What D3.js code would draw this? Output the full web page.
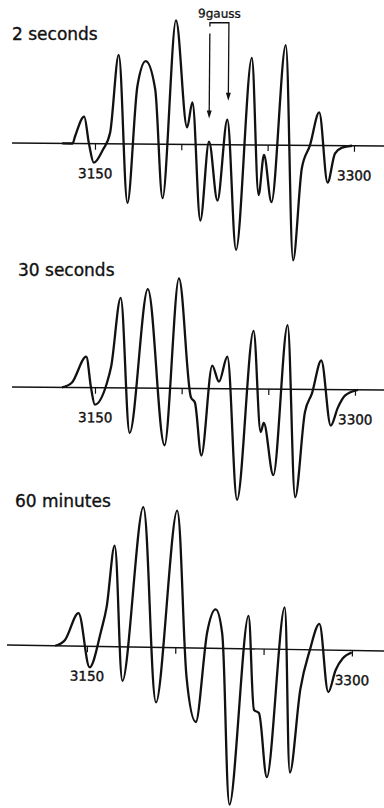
<!DOCTYPE html>
<html>
<head>
<meta charset="utf-8">
<script src="https://cdn.jsdelivr.net/npm/d3@7"></script>
<style>
  html, body { margin: 0; padding: 0; background: #fff; }
  svg { display: block; }
</style>
</head>
<body>
<div id="chart"></div>
<script>
// field axis (gauss)
const fieldTicks = [3150, 3200, 3250, 3300];
const labelledTicks = [3150, 3300];
const panelTitles = ['2 seconds', '30 seconds', '60 minutes'];

// 2 seconds spectrum: field (G) and derivative signal (arb. units)
const field2s = [3131, 3137, 3138.4, 3143.6, 3146.5, 3149.4, 3154.6, 3158.7, 3163.3, 3169.1,
  3174.3, 3179.0, 3184.6, 3189.4, 3196.3, 3203.3, 3206.2, 3211.4, 3216.0, 3221.2,
  3226.5, 3232.2, 3240.4, 3245.0, 3247.9, 3252.5, 3260.0, 3265.3, 3269.9, 3274.5,
  3279.7, 3284.9, 3289.0, 3293.1, 3298.9];
const signal2s = [0, 0, 7, 27, 0, -19, -6, 11, 89, -59,
  58, 83, 55, -54, 124, 17, 42, -76, 3, -56,
  25, -105, 87, -50, -10, -57, 100, -115, -23, 0,
  33, -37, -8, -2, 0];

// 30 seconds spectrum
const field30s = [3131, 3136.7, 3144.8, 3147.7, 3150, 3156.9, 3159.2, 3164.4, 3170.2, 3180.0,
  3190.4, 3197.9, 3205.4, 3207.7, 3211.7, 3217.5, 3221.5, 3226.2, 3232.5, 3241.2,
  3245.8, 3247.5, 3253.3, 3260.8, 3266.0, 3271.2, 3275.2, 3280.4, 3286.2, 3290.2,
  3294.2, 3301.7];
const signal30s = [0, 5, 31, 0, -17, 5, 21, 90, -45, 99,
  -57, 110, -9, -14, -67, 23, 7, 32, -111, 58,
  -43, -34, -86, 64, -108, -23, -4, 29, -36, -18,
  -6, 0];

// 60 minutes spectrum
const field60m = [3132, 3137.5, 3144.9, 3151.7, 3157.9, 3160.8, 3164.7, 3170.4, 3180.6, 3189.6,
  3199.8, 3206.6, 3212.3, 3217.9, 3222.5, 3226.4, 3232.1, 3241.1, 3245.1, 3247.9,
  3253.0, 3261.5, 3266.0, 3271.1, 3276.2, 3281.3, 3287.0, 3290.9, 3294.9, 3299.9];
const signal60m = [0, 6, 33, -21, 16, 40, 101, -34, 140, -55,
  137, -29, -74, 16, 39, 15, -156, 33, -61, -64,
  -128, 42, -123, -40, 0, 26, -42, -20, -8, -2];

// 9 gauss marker on the first spectrum
const markerField = [3216, 3227];
const markerTip = [26, 44];
const markerTop = 122;

const W = 384, H = 808;
const ink = '#111';
const font = '"DejaVu Sans", sans-serif';

const panels = [
  { title: panelTitles[0], field: field2s, signal: signal2s, base: 143, x0: 12, tilt: 0.46, r: [95, 354], tx: 12, ty: 40 },
  { title: panelTitles[1], field: field30s, signal: signal30s, base: 387, x0: 12, tilt: 0.46, r: [95, 355], tx: 18, ty: 276 },
  { title: panelTitles[2], field: field60m, signal: signal60m, base: 645, x0: 7, tilt: 0.91, r: [87, 352], tx: 15, ty: 507 }
];

const svg = d3.select('#chart').append('svg')
  .attr('width', W)
  .attr('height', H);

const y = d3.scaleLinear().domain([0, 100]).range([0, -100]);

panels.forEach((p, i) => {
  const x = d3.scaleLinear().domain([3150, 3300]).range(p.r);

  svg.append('text')
    .attr('x', p.tx)
    .attr('y', p.ty)
    .attr('font-family', font)
    .attr('font-size', 17)
    .attr('fill', ink)
    .attr('stroke', ink)
    .attr('stroke-width', 0.35)
    .text(p.title);

  const g = svg.append('g')
    .attr('transform', 'translate(0,' + p.base + ') rotate(' + p.tilt + ',' + p.x0 + ',0)');

  // baseline
  g.append('line')
    .attr('x1', p.x0).attr('x2', W + 10)
    .attr('y1', 0).attr('y2', 0)
    .attr('stroke', ink)
    .attr('stroke-width', 1.4);

  const axis = g.append('g')
    .call(d3.axisBottom(x)
      .tickValues(fieldTicks)
      .tickSize(6)
      .tickPadding(19)
      .tickFormat(d => labelledTicks.includes(d) ? d : ''));
  axis.select('.domain').remove();
  axis.attr('font-family', font).attr('font-size', 13.5);
  axis.selectAll('line').attr('stroke', ink).attr('stroke-width', 1.2);
  axis.selectAll('text').attr('fill', ink).attr('stroke', ink).attr('stroke-width', 0.4);

  const line = d3.line()
    .x((d, j) => x(p.field[j]))
    .y(d => y(d))
    .curve(d3.curveMonotoneX);

  g.append('path')
    .datum(p.signal)
    .attr('d', line)
    .attr('fill', 'none')
    .attr('stroke', ink)
    .attr('stroke-width', 2.3)
    .attr('stroke-linejoin', 'round');

  if (i === 0) {
    // bracket + arrows marking the 9 gauss splitting
    const xa = x(markerField[0]), xb = x(markerField[1]);
    g.append('path')
      .attr('d', 'M' + xa + ',' + y(markerTop - 4) + 'V' + y(markerTop) + 'H' + xb + 'V' + y(markerTip[1] + 6))
      .attr('fill', 'none')
      .attr('stroke', ink)
      .attr('stroke-width', 1.3);
    g.append('line')
      .attr('x1', xa).attr('x2', xa)
      .attr('y1', y(markerTop - 11)).attr('y2', y(markerTip[0] + 6))
      .attr('stroke', ink)
      .attr('stroke-width', 1.3);
    markerField.forEach((f, k) => {
      const tx = x(f), ty = y(markerTip[k]);
      g.append('path')
        .attr('d', 'M' + tx + ',' + ty + 'L' + (tx - 2.5) + ',' + (ty - 8) + 'L' + (tx + 2.5) + ',' + (ty - 8) + 'Z')
        .attr('fill', ink);
    });
    g.append('text')
      .attr('x', (xa + xb) / 2)
      .attr('y', y(markerTop) - 5)
      .attr('text-anchor', 'middle')
      .attr('font-family', font)
      .attr('font-size', 12)
      .attr('fill', ink)
      .attr('stroke', ink)
      .attr('stroke-width', 0.3)
      .text('9gauss');
  }
});
</script>
</body>
</html>
